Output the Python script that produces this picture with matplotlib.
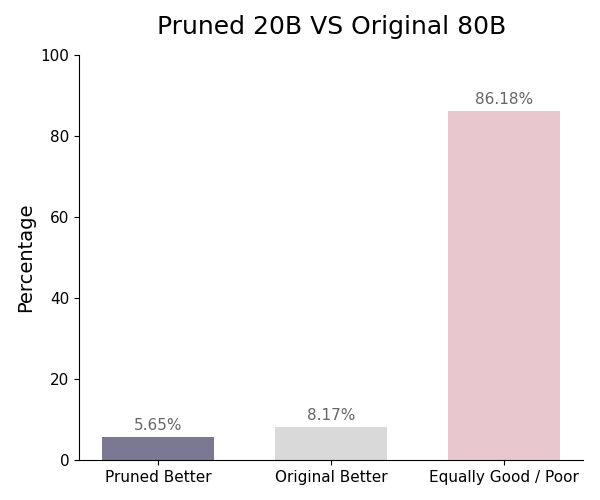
import matplotlib
matplotlib.use("Agg")
import matplotlib.pyplot as plt

categories = ["Pruned Better", "Original Better", "Equally Good / Poor"]
values = [5.65, 8.17, 86.18]
colors = ["#7b7894", "#d9d9d9", "#e8c8ce"]

fig, ax = plt.subplots(figsize=(6, 5), dpi=100)
bars = ax.bar(categories, values, color=colors, width=0.65)
for b, v in zip(bars, values):
    ax.text(b.get_x() + b.get_width() / 2, v + 1, f"{v:.2f}%", ha="center", va="bottom",
            fontsize=11, color="#666666")
ax.set_ylim(0, 100)
ax.set_ylabel("Percentage", fontsize=14)
ax.set_title("Pruned 20B VS Original 80B", fontsize=18, pad=15)
ax.tick_params(labelsize=11)
ax.spines["top"].set_visible(False)
ax.spines["right"].set_visible(False)
fig.subplots_adjust(left=0.132, right=0.972, top=0.89, bottom=0.08)
fig.savefig("out.png", dpi=100)
